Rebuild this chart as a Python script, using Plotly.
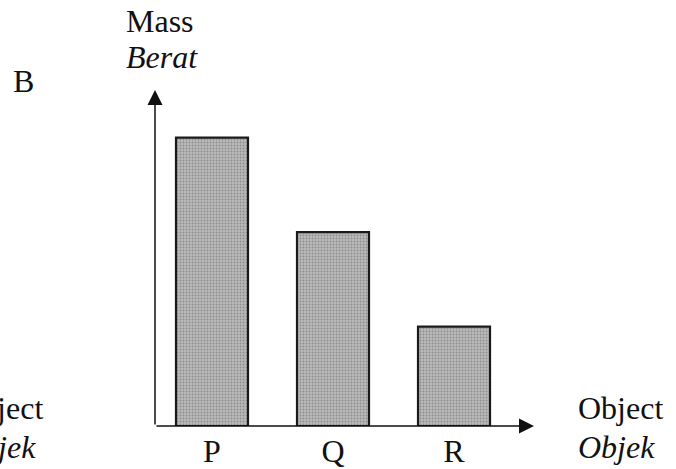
import plotly.graph_objects as go

objects = ["P", "Q", "R"]
mass = [29, 19.5, 10]

W, H = 676, 469
L, R_, T, B = 155, 142, 90, 43
pw, ph = W - L - R_, H - T - B

def px(xp):
    return (xp - L) / pw

def py(yp):
    return (H - B - yp) / ph

FONT = "Liberation Serif"
FS = 32

fig = go.Figure()
fig.add_trace(go.Bar(
    x=objects, y=mass,
    marker=dict(
        color="#b5b5b5",
        line=dict(color="#1a1a1a", width=2.2),
        pattern=dict(shape=".", bgcolor="#bababa", fgcolor="#5e5e5e", size=3, solidity=0.3),
    ),
))

annotations = []
annotations.append(dict(xref="paper", yref="paper", x=1, y=0, ax=-pw, ay=0, axref="pixel", ayref="pixel",
                        text="", showarrow=True, arrowhead=2, arrowsize=2, arrowwidth=1.5, arrowcolor="#111"))
annotations.append(dict(xref="paper", yref="paper", x=0, y=1, ax=0, ay=ph, axref="pixel", ayref="pixel",
                        text="", showarrow=True, arrowhead=2, arrowsize=2, arrowwidth=1.5, arrowcolor="#111"))

def txt(s, xp, yp, xanchor="left"):
    annotations.append(dict(xref="paper", yref="paper", x=px(xp), y=py(yp), text=s, showarrow=False,
                            xanchor=xanchor, yanchor="middle",
                            font=dict(family=FONT, size=FS, color="#111")))

txt("Mass", 124, 21)
txt("<i>Berat</i>", 124, 57)
txt("B", 11, 81)
txt("Object", 576, 408)
txt("<i>Objek</i>", 576, 447)
txt("Object", 45, 408, xanchor="right")
txt("<i>Objek</i>", 38, 447, xanchor="right")

fig.update_layout(
    width=W, height=H,
    margin=dict(l=L, r=R_, t=T, b=B, autoexpand=False),
    paper_bgcolor="white", plot_bgcolor="white",
    showlegend=False,
    bargap=0.405,
    annotations=annotations,
    font=dict(family=FONT, color="#111"),
    xaxis=dict(range=[-0.471, 2.661], showgrid=False, zeroline=False, showline=False, automargin=False,
               ticks="", ticklabelstandoff=3, tickfont=dict(family=FONT, size=FS, color="#111")),
    yaxis=dict(range=[0, 33.8], showgrid=False, zeroline=False, showline=False, automargin=False,
               showticklabels=False, ticks=""),
)

fig.write_html("out.html", config={"displayModeBar": False},
               post_script="document.body.style.margin='0';document.body.style.overflow='hidden';")
